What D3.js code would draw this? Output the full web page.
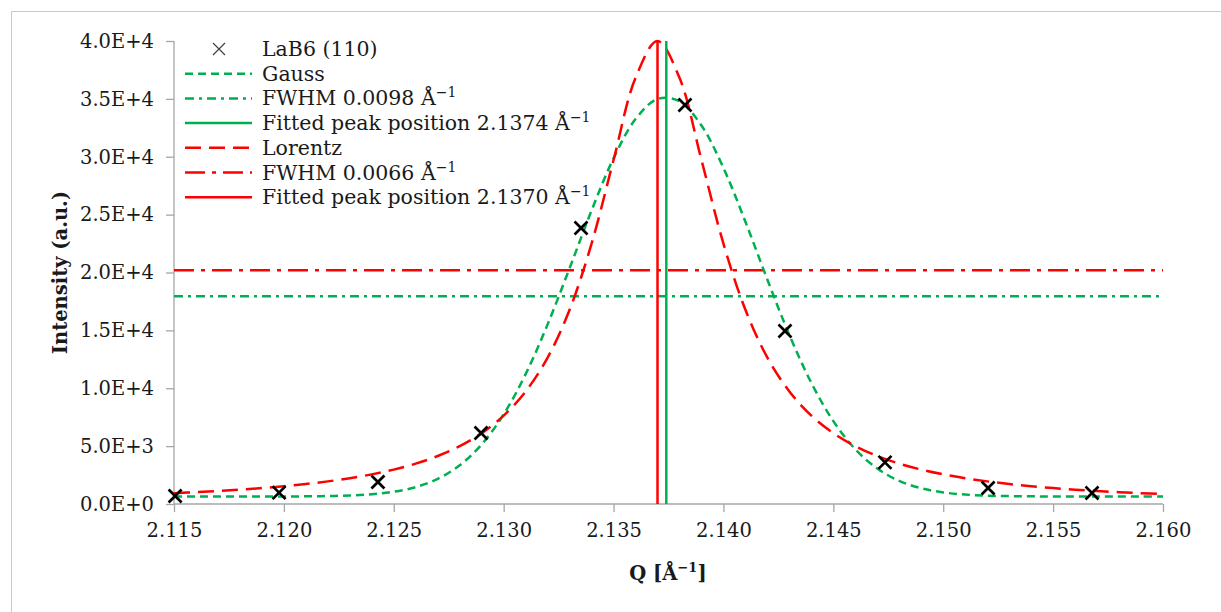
<!DOCTYPE html>
<html>
<head>
<meta charset="utf-8">
<script src="https://cdn.jsdelivr.net/npm/d3@7"></script>
<style>
  body { margin: 0; background: #fff; }
  svg text { font-family: "DejaVu Serif", "Liberation Serif", serif; fill: #1a1a1a; }
</style>
</head>
<body>
<div id="chart"></div>
<script>
// measured points, LaB6 (110)
const dataQ = [2.11505, 2.11978, 2.12428, 2.12897, 2.13352, 2.13825, 2.1428, 2.14735, 2.15204, 2.15677];
const dataI = [690, 980, 1900, 6130, 23840, 34470, 14940, 3600, 1380, 950];

// fitted curves at 0.001 steps
const curveQ = [2.115, 2.116, 2.117, 2.118, 2.119, 2.120, 2.121, 2.122, 2.123, 2.124,
  2.125, 2.126, 2.127, 2.128, 2.129, 2.130, 2.131, 2.132, 2.133, 2.134,
  2.135, 2.136, 2.137, 2.138, 2.139, 2.140, 2.141, 2.142, 2.143, 2.144,
  2.145, 2.146, 2.147, 2.148, 2.149, 2.150, 2.151, 2.152, 2.153, 2.154,
  2.155, 2.156, 2.157, 2.158, 2.159, 2.160];
const gaussI = [650, 650, 650, 650, 650, 650, 664, 687, 736, 843,
  1057, 1461, 2171, 3341, 5149, 7750, 11224, 15520, 20377, 25362,
  29865, 33253, 34991, 34794, 32694, 29033, 24383, 19380, 14602, 10462,
  7160, 4728, 3062, 1996, 1358, 1002, 815, 723, 681, 662,
  655, 650, 650, 650, 650, 650];
const lorentzI = [933, 1022, 1124, 1241, 1378, 1538, 1728, 1955, 2227, 2561,
  2972, 3487, 4145, 4996, 6120, 7635, 9722, 12646, 16779, 22490,
  29718, 36816, 40000, 36816, 29718, 22490, 16779, 12646, 9722, 7635,
  6120, 4996, 4145, 3487, 2972, 2561, 2227, 1955, 1728, 1538,
  1378, 1241, 1124, 1022, 933, 855];

// fit results
const gaussPeak = 2.1374, gaussHalf = 17950;
const lorentzPeak = 2.1370, lorentzHalf = 20200;

const xTicks = [2.115, 2.120, 2.125, 2.130, 2.135, 2.140, 2.145, 2.150, 2.155, 2.160];
const xTickLabels = ["2.115", "2.120", "2.125", "2.130", "2.135", "2.140", "2.145", "2.150", "2.155", "2.160"];
const yTicks = [0, 5000, 10000, 15000, 20000, 25000, 30000, 35000, 40000];
const yTickLabels = ["0.0E+0", "5.0E+3", "1.0E+4", "1.5E+4", "2.0E+4", "2.5E+4", "3.0E+4", "3.5E+4", "4.0E+4"];

const legendItems = [
  {label: "LaB6 (110)", sup: null, type: "marker"},
  {label: "Gauss", sup: null, color: "#00b050", dash: "8,5"},
  {label: "FWHM 0.0098 Å", sup: "−1", color: "#00b050", dash: "9,5,3,5"},
  {label: "Fitted peak position 2.1374 Å", sup: "−1", color: "#00b050", dash: null},
  {label: "Lorentz", sup: null, color: "#ff0000", dash: "16,8"},
  {label: "FWHM 0.0066 Å", sup: "−1", color: "#ff0000", dash: "20,7,4,7"},
  {label: "Fitted peak position 2.1370 Å", sup: "−1", color: "#ff0000", dash: null}
];

const W = 1221, H = 612;
const margin = {left: 174, right: 58, top: 41, bottom: 108};

const svg = d3.select("#chart").append("svg")
  .attr("width", W).attr("height", H);

// chart frame (only top/left edge visible)
svg.append("path")
  .attr("d", `M11.5,${H} V11.5 H${W}`)
  .attr("fill", "none").attr("stroke", "#c8c8c8").attr("stroke-width", 1);

const x = d3.scaleLinear().domain([2.115, 2.160]).range([margin.left, W - margin.right]);
const y = d3.scaleLinear().domain([0, 40000]).range([H - margin.bottom, margin.top]);

// axes
const xAxis = svg.append("g")
  .attr("transform", `translate(0,${y(0)})`)
  .call(d3.axisBottom(x).tickValues(xTicks).tickFormat((d, i) => xTickLabels[i]).tickSize(8).tickPadding(11));
const yAxis = svg.append("g")
  .attr("transform", `translate(${x(2.115)},0)`)
  .call(d3.axisLeft(y).tickValues(yTicks).tickFormat((d, i) => yTickLabels[i]).tickSize(8).tickPadding(12));

[xAxis, yAxis].forEach(g => {
  g.select(".domain").attr("stroke", "#a6a6a6").attr("stroke-width", 1.3);
  g.selectAll(".tick line").attr("stroke", "#a6a6a6").attr("stroke-width", 1.3);
  g.selectAll(".tick text").attr("font-size", 19.5).attr("fill", "#1a1a1a")
    .style("font-family", "'DejaVu Serif', serif");
});
// plain axis lines without end caps
xAxis.select(".domain").attr("d", `M${x(2.115)},0H${x(2.160)}`);
yAxis.select(".domain").attr("d", `M0,${y(0)}V${y(40000)}`);

// axis titles
svg.append("text")
  .attr("transform", `translate(60,${(y(0) + y(40000)) / 2}) rotate(-90)`)
  .attr("text-anchor", "middle").attr("dominant-baseline", "central")
  .attr("font-size", 19.5).attr("font-weight", "bold")
  .text("Intensity (a.u.)");

const qTitle = svg.append("text")
  .attr("x", 668).attr("y", 580)
  .attr("text-anchor", "middle")
  .attr("font-size", 19.5).attr("font-weight", "bold");
qTitle.append("tspan").text("Q [Å");
qTitle.append("tspan").attr("font-size", 13).attr("dy", -8).text("−1");
qTitle.append("tspan").attr("dy", 8).text("]");

// curves
const line = d3.line().x(d => x(d[0])).y(d => y(d[1])).curve(d3.curveCatmullRom);

// FWHM horizontals
svg.append("path")
  .attr("d", line([[2.115, lorentzHalf], [2.160, lorentzHalf]]))
  .attr("fill", "none").attr("stroke", "#ff0000").attr("stroke-width", 2.5)
  .attr("stroke-dasharray", "20,7,4,7");
svg.append("path")
  .attr("d", line([[2.115, gaussHalf], [2.160, gaussHalf]]))
  .attr("fill", "none").attr("stroke", "#00b050").attr("stroke-width", 2.5)
  .attr("stroke-dasharray", "9,5,3,5");

svg.append("path")
  .attr("d", line(curveQ.map((q, i) => [q, gaussI[i]])))
  .attr("fill", "none").attr("stroke", "#00b050").attr("stroke-width", 2.5)
  .attr("stroke-dasharray", "8,5");
svg.append("path")
  .attr("d", line(curveQ.map((q, i) => [q, lorentzI[i]])))
  .attr("fill", "none").attr("stroke", "#ff0000").attr("stroke-width", 2.5)
  .attr("stroke-dasharray", "16,8");

// peak position verticals
svg.append("line")
  .attr("x1", x(lorentzPeak)).attr("x2", x(lorentzPeak))
  .attr("y1", y(0)).attr("y2", y(40000))
  .attr("stroke", "#ff0000").attr("stroke-width", 2.5);
svg.append("line")
  .attr("x1", x(gaussPeak)).attr("x2", x(gaussPeak))
  .attr("y1", y(0)).attr("y2", y(40000))
  .attr("stroke", "#00b050").attr("stroke-width", 2.5);

// data markers
const cross = (s) => `M${-s},${-s}L${s},${s}M${-s},${s}L${s},${-s}`;
svg.append("g").selectAll("path")
  .data(dataQ.map((q, i) => [q, dataI[i]]))
  .join("path")
  .attr("transform", d => `translate(${x(d[0])},${y(d[1])})`)
  .attr("d", cross(6.5))
  .attr("stroke", "#000").attr("stroke-width", 2.7).attr("fill", "none");

// legend
const legend = svg.append("g").attr("transform", "translate(185,49)");
const rowH = 24.7;
legendItems.forEach((it, i) => {
  const g = legend.append("g").attr("transform", `translate(0,${i * rowH})`);
  if (it.type === "marker") {
    g.append("path").attr("transform", "translate(34,0)").attr("d", cross(6))
      .attr("stroke", "#404040").attr("stroke-width", 1.2).attr("fill", "none");
  } else {
    g.append("line").attr("x1", 0).attr("x2", 67).attr("y1", 0).attr("y2", 0)
      .attr("stroke", it.color).attr("stroke-width", 2.5)
      .attr("stroke-dasharray", it.dash);
  }
  const t = g.append("text").attr("x", 77).attr("y", 7).attr("font-size", 20.5);
  t.append("tspan").text(it.label);
  if (it.sup) t.append("tspan").attr("font-size", 14).attr("dy", -8).text(it.sup);
});
</script>
</body>
</html>
